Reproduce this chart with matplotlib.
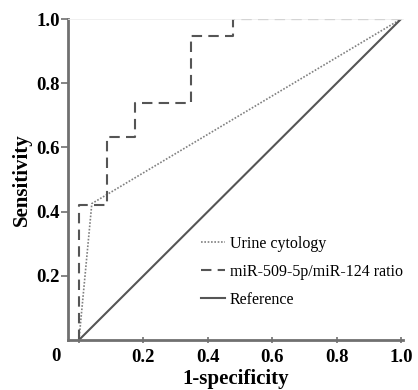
import matplotlib
matplotlib.use('Agg')
import matplotlib.pyplot as plt

# ROC data
ratio_fpr = [0, 0, 2/23, 2/23, 4/23, 4/23, 8/23, 8/23, 11/23, 11/23, 1.0]
ratio_tpr = [0, 8/19, 8/19, 12/19, 12/19, 14/19, 14/19, 18/19, 18/19, 1.0, 1.0]
cyto_fpr = [0, 0.04, 1.0]
cyto_tpr = [0, 0.425, 1.0]
ref_fpr = [0, 1]
ref_tpr = [0, 1]
xticks = [0.2, 0.4, 0.6, 0.8, 1.0]
yticks = [0.2, 0.4, 0.6, 0.8, 1.0]

plt.rcParams['font.family'] = ['Liberation Serif', 'DejaVu Serif']

fig = plt.figure(figsize=(4.18, 3.9), dpi=100)
ax = fig.add_axes([68/418, 50/390, 335/418, 321/390])

ax.plot(cyto_fpr, cyto_tpr, linestyle=(0, (1, 1)), color='#808080', lw=1.2,
        label='Urine cytology')
ax.plot(ratio_fpr, ratio_tpr, linestyle=(0, (5, 3)), color='#555555', lw=1.5,
        label='miR-509-5p/miR-124 ratio')
ax.plot(ref_fpr, ref_tpr, color='#555555', lw=1.5, label='Reference')

ax.set_xlim(-0.034, 1.006)
ax.set_ylim(0, 1.0)

ax.spines['right'].set_visible(False)
ax.spines['top'].set_color('#eeeeee')
ax.spines['top'].set_linewidth(0.6)
for s in ['left', 'bottom']:
    ax.spines[s].set_color('#707070')
    ax.spines[s].set_linewidth(2)

ax.set_xticks([0] + xticks)
ax.set_xticklabels([''] + ['%.1f' % v for v in xticks])
ax.set_yticks(yticks)
ax.set_yticklabels(['%.1f' % v for v in yticks])
ax.tick_params(axis='x', direction='inout', length=5, width=1.2, color='#707070',
               labelsize=13.5, pad=4)
ax.tick_params(axis='y', direction='out', length=5, width=1.2, color='#707070',
               labelsize=13.5, pad=1)
for lbl in ax.get_xticklabels() + ax.get_yticklabels():
    lbl.set_fontweight('bold')

ax.text(-0.072, -0.05, '0', transform=ax.transData, ha='center', va='center',
        fontsize=13.5, fontweight='bold')

ax.set_xlabel('1-specificity', fontsize=15, fontweight='bold', labelpad=2)
ax.set_ylabel('Sensitivity', fontsize=15, fontweight='bold', labelpad=3)

ax.legend(loc='upper left', bbox_to_anchor=(0.355, 0.37), frameon=False,
          fontsize=11.5, handlelength=1.5, handletextpad=0.3, labelspacing=0.75)

plt.savefig('out.png', dpi=100, facecolor='white')
plt.close()
